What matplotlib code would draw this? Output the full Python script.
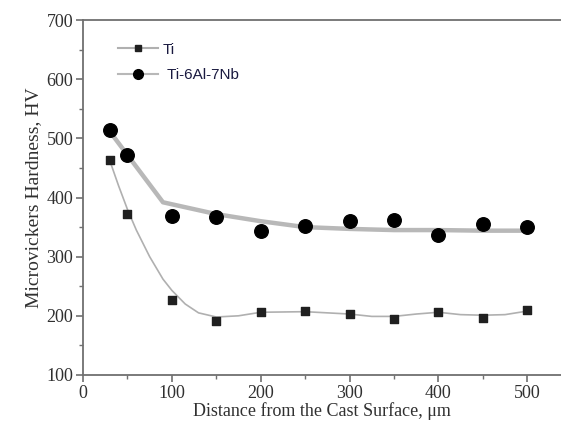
import matplotlib.pyplot as plt
from matplotlib.ticker import MultipleLocator

# measured points
dist = [30, 50, 100, 150, 200, 250, 300, 350, 400, 450, 500]
ti_hv = [463, 373, 227, 191, 207, 208, 203, 194, 207, 197, 209]
tinb_hv = [514, 472, 369, 367, 344, 352, 360, 362, 336, 356, 350]

# trend lines
ti_fit_x = [30, 40, 50, 60, 75, 90, 100, 115, 130, 150, 175, 200, 250,
            300, 325, 350, 375, 400, 425, 450, 475, 500]
ti_fit_y = [463, 420, 380, 345, 300, 262, 243, 220, 205, 198, 200, 206, 207,
            203, 199, 199, 203, 206, 202, 201, 202, 208]
tinb_fit_x = [30, 90, 150, 200, 250, 300, 350, 400, 450, 500]
tinb_fit_y = [512, 392, 372, 360, 350, 347, 345, 345, 344, 344]

fig = plt.figure(figsize=(5.61, 4.29), dpi=100)
ax = fig.add_axes([0.148, 0.126, 0.852, 0.827])

ax.plot(ti_fit_x, ti_fit_y, color='#b0b0b0', lw=1.2, zorder=1)
ax.plot(tinb_fit_x, tinb_fit_y, color='#b8b8b8', lw=3.2, zorder=1)
ax.scatter(dist, ti_hv, marker='s', s=28, color='#202020', zorder=3)
ax.scatter(dist, tinb_hv, marker='o', s=95, color='black', zorder=3)

# legend handles (marker with grey line)
h1, = ax.plot([], [], color='#b0b0b0', lw=1.5, marker='s', ms=5,
              mfc='#202020', mec='#202020')
h2, = ax.plot([], [], color='#b8b8b8', lw=1.5, marker='o', ms=7,
              mfc='black', mec='black')
leg = ax.legend([h1, h2], ['Ti', ' Ti-6Al-7Nb'], loc='upper left',
                bbox_to_anchor=(0.045, 0.975), frameon=False,
                prop={'family': 'Liberation Sans', 'size': 11},
                handlelength=2.6, handletextpad=0.3, labelspacing=0.75)
for t in leg.get_texts():
    t.set_color('#1a1a40')

ax.set_xlim(0, 538)
ax.set_ylim(100, 700)
ax.xaxis.set_major_locator(MultipleLocator(100))
ax.xaxis.set_minor_locator(MultipleLocator(50))
ax.yaxis.set_major_locator(MultipleLocator(100))
ax.yaxis.set_minor_locator(MultipleLocator(50))

for side in ['left', 'bottom', 'top']:
    ax.spines[side].set_color('#707070')
    ax.spines[side].set_linewidth(1.3)
ax.spines['right'].set_visible(False)

ax.tick_params(which='major', direction='out', length=5, width=1.2,
               color='#707070', labelsize=13, labelcolor='#303030', pad=2)
ax.tick_params(which='minor', direction='out', length=3, width=1,
               color='#707070')
for lab in ax.get_xticklabels() + ax.get_yticklabels():
    lab.set_family('Liberation Serif')

ax.set_xlabel('Distance from the Cast Surface, \u03bcm',
              family='Liberation Serif', size=13, color='#303030',
              labelpad=0)
ax.set_ylabel('Microvickers Hardness, HV', family='Liberation Serif',
              size=14, color='#303030', labelpad=3)

fig.savefig('out.png', dpi=100)
